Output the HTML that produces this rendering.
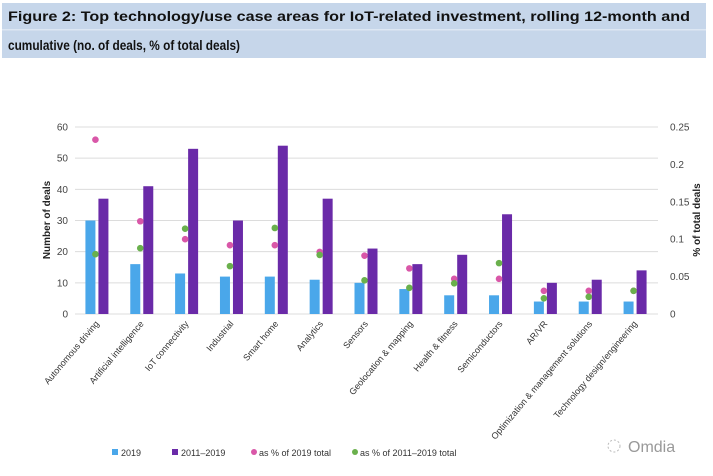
<!DOCTYPE html>
<html><head><meta charset="utf-8"><style>
body{margin:0;width:713px;height:471px;background:#fff;overflow:hidden;font-family:"Liberation Sans",sans-serif}
</style></head><body>
<svg width="713" height="471" xmlns="http://www.w3.org/2000/svg">
<rect x="2" y="3" width="704" height="55" fill="#c6d6ea"/>
<rect x="2" y="29" width="704" height="1.5" fill="#dde7f3"/>
<text x="8" y="21" font-size="14" font-weight="bold" fill="#111" textLength="682" lengthAdjust="spacingAndGlyphs">Figure 2: Top technology/use case areas for IoT-related investment, rolling 12-month and</text>
<text x="8" y="50" font-size="14" font-weight="bold" fill="#111" textLength="232" lengthAdjust="spacingAndGlyphs">cumulative (no. of deals, % of total deals)</text>
<g id="plot"></g>
<text transform="translate(50,220) rotate(-90)" text-anchor="middle" font-size="10" font-weight="bold" fill="#222">Number of deals</text>
<text transform="translate(700,220) rotate(-90)" text-anchor="middle" font-size="10" font-weight="bold" fill="#222">% of total deals</text>
<g font-size="9" fill="#333">
<rect x="112" y="449" width="6" height="6" fill="#4aa7ea"/><text x="121" y="456">2019</text>
<rect x="172" y="449" width="6" height="6" fill="#6a2aa8"/><text x="181" y="456">2011–2019</text>
<circle cx="254" cy="452" r="3" fill="#d957a8"/><text x="259" y="456">as % of 2019 total</text>
<circle cx="355" cy="452" r="3" fill="#6ab04c"/><text x="360" y="456">as % of 2011–2019 total</text>
</g>
<text x="628" y="452" font-size="16" fill="#999">Omdia</text>
<circle cx="614" cy="446" r="6" fill="none" stroke="#bbb" stroke-dasharray="2 2"/>
</svg>
<script>
const categories=["Autonomous driving","Artificial intelligence","IoT connectivity","Industrial","Smart home","Analytics","Sensors","Geolocation & mapping","Health & fitness","Semiconductors","AR/VR","Optimization & management solutions","Technology design/engineering"];
const deals2019=[30,16,13,12,12,11,10,8,6,6,4,4,4];
const dealsCum=[37,41,53,30,54,37,21,16,19,32,10,11,14];
const pct2019=[0.233,0.124,0.100,0.092,0.092,0.083,0.078,0.061,0.047,0.047,0.031,0.031,0.031];
const pctCum=[0.080,0.088,0.114,0.064,0.115,0.079,0.045,0.035,0.041,0.068,0.021,0.023,0.031];
const leftTicks=[0,10,20,30,40,50,60];
const rightTicks=["0","0.05","0.1","0.15","0.2","0.25"];
const NS="http://www.w3.org/2000/svg";
const g=document.getElementById('plot');
const x0=75,x1=658,y0=314,yTop=127;
const yL=v=>y0-(v/60)*(y0-yTop);
const yR=v=>y0-(v/0.25)*(y0-yTop);
const cw=(x1-x0)/categories.length;
const cx=i=>x0+cw*(i+0.5);
function mk(t,a){const e=document.createElementNS(NS,t);for(const k in a)e.setAttribute(k,a[k]);g.appendChild(e);return e;}
leftTicks.forEach(v=>{
 const l=mk('line',{x1:x0,x2:x1,y1:yL(v),y2:yL(v),stroke:'#dcdcdc','stroke-width':1});
 
 
 const t=mk('text',{x:68,y:yL(v)+3.5,'text-anchor':'end','font-size':10,fill:'#444'});t.textContent=v;
 
 
});
rightTicks.forEach(s=>{
 const t=mk('text',{x:670,y:yR(parseFloat(s))+3.5,'font-size':10,fill:'#444'});t.textContent=s;
 
 
});
categories.forEach((c,i)=>{
 const b1=mk('rect',{x:cx(i)-12,y:yL(deals2019[i]),width:10,height:y0-yL(deals2019[i]),fill:'#4aa7ea'});
 
 
 const b2=mk('rect',{x:cx(i)+1,y:yL(dealsCum[i]),width:10,height:y0-yL(dealsCum[i]),fill:'#6a2aa8'});
 
 
 const p=mk('circle',{cx:cx(i)-2,cy:yR(pct2019[i]),r:3.3,fill:'#d957a8'});
 
 
 const q=mk('circle',{cx:cx(i)-2,cy:yR(pctCum[i]),r:3.3,fill:'#6ab04c'});
 
 
 const t=mk('text',{transform:`translate(${cx(i)+2},${y0+10}) rotate(-50)`,'text-anchor':'end','font-size':9,fill:'#333'});t.textContent=c;
 
 
});
</script>
</body></html>
